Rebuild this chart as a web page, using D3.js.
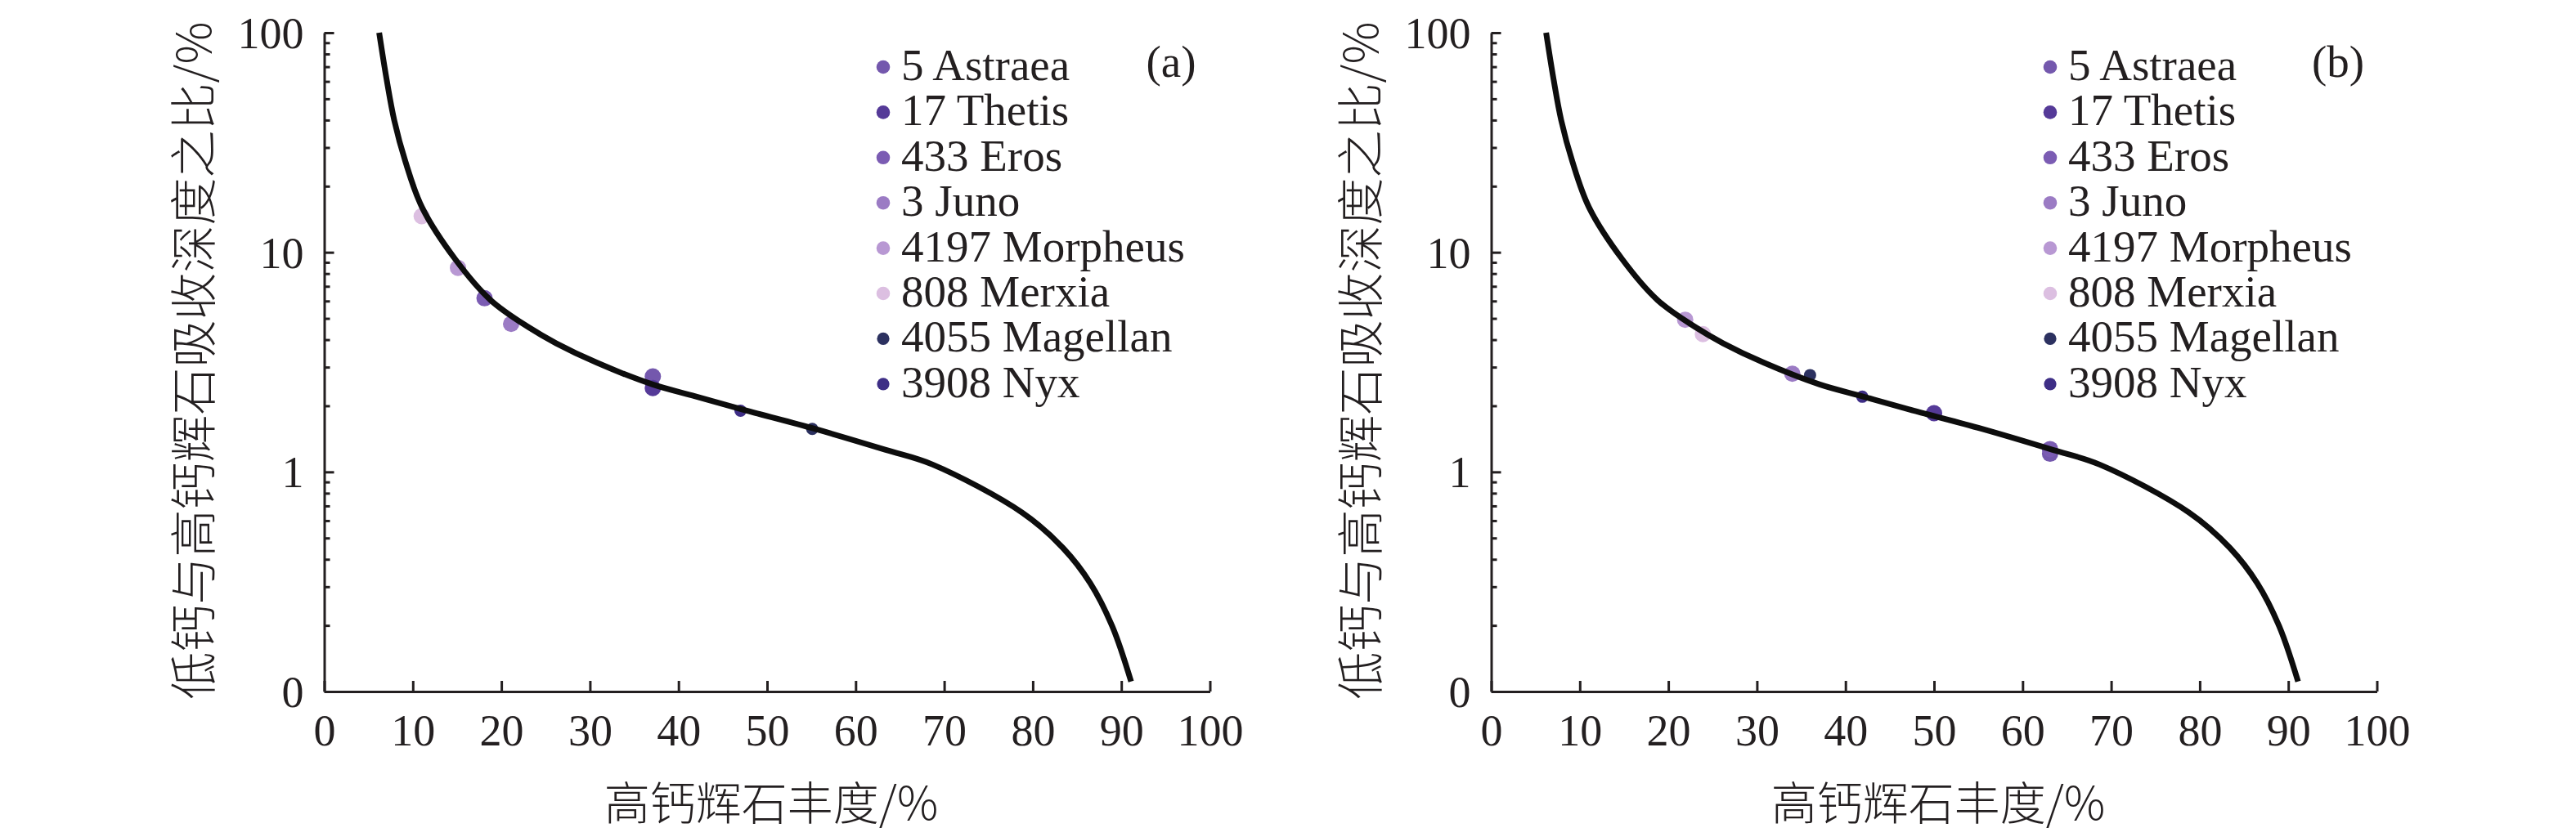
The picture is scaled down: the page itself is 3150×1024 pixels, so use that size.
<!DOCTYPE html>
<html>
<head>
<meta charset="utf-8">
<script src="https://cdn.jsdelivr.net/npm/d3@7"></script>
<style>
  html, body { margin: 0; padding: 0; background: #fff; }
  svg { display: block; }
  .num { font-family: "Liberation Serif", "Times New Roman", serif; fill: #231f20; }
  .cjk { font-family: "Noto Sans CJK SC", sans-serif; font-weight: 300; fill: #231f20; }
</style>
</head>
<body>
<svg id="chart" width="3150" height="1024"></svg>
<script>
/**
 * Ratio of low-Ca to high-Ca pyroxene band depth vs high-Ca pyroxene abundance.
 * Two panels (a) and (b), same model curve, asteroid points per panel.
 */

// model curve (same curve in both panels)
const CURVE_X = [6.2, 7.05, 7.9, 9.15, 11.05, 14.8, 18.8, 23.1, 26.2, 30.8, 37.1, 41.9, 47.1, 55.4, 63.4, 68.7, 78.8, 83.4, 86.5, 89.0, 91.1];
const CURVE_Y = [100, 61, 40, 26, 16.0, 9.29, 6.05, 4.55, 3.85, 3.14, 2.50, 2.21, 1.93, 1.57, 1.26, 1.08, 0.653, 0.451, 0.311, 0.197, 0.111];

const ASTEROIDS = ['5 Astraea', '17 Thetis', '433 Eros', '3 Juno', '4197 Morpheus', '808 Merxia', '4055 Magellan', '3908 Nyx'];
const COLORS    = ['#7458ad', '#553a98', '#7b5cb3', '#9b7bc4', '#b898d3', '#dcbfe1', '#2c3160', '#3e2e86'];

// panel (a) points
const A_X = [37.1, 37.1, 18.1, 21.1, 15.1, 11.0, 55.1, 47.0];
const A_Y = [2.72, 2.41, 6.18, 4.72, 8.5, 14.6, 1.57, 1.90];
// panel (b) points
const B_X = [63.1, 50.0, 63.1, 34.0, 21.9, 23.9, 36.0, 41.9];
const B_Y = [1.21, 1.85, 1.27, 2.80, 4.93, 4.24, 2.76, 2.20];

const X_TICKS = [0, 10, 20, 30, 40, 50, 60, 70, 80, 90, 100];
const Y_MAJOR = [0.1, 1, 10, 100];
const Y_LABELS = ['0', '1', '10', '100'];
const Y_MINOR = [0.2, 0.3, 0.4, 0.5, 0.6, 0.7, 0.8, 0.9, 2, 3, 4, 5, 6, 7, 8, 9, 20, 30, 40, 50, 60, 70, 80, 90];

const X_TITLE = '高钙辉石丰度/%';
const Y_TITLE = '低钙与高钙辉石吸收深度之比/%';

const PANELS = [
  { tag: '(a)', xs: A_X, ys: A_Y, left: 396.5 },
  { tag: '(b)', xs: B_X, ys: B_Y, left: 1823.5 },
];

const svg = d3.select('#chart');
svg.append('rect').attr('width', 3150).attr('height', 1024).attr('fill', '#fff');

const TOP = 40, BOTTOM = 846, PLOT_W = 1083;

for (const p of PANELS) drawPanel(p);

function drawPanel(p) {
  const g = svg.append('g').attr('transform', `translate(${p.left},0)`);
  const x = d3.scaleLinear().domain([0, 100]).range([0, PLOT_W]);
  const y = d3.scaleLog().domain([0.1, 100]).range([BOTTOM, TOP]);

  /* ---- axes ---- */
  const xAxis = g.append('g')
    .attr('transform', `translate(0,${BOTTOM})`)
    .call(d3.axisBottom(x).tickValues(X_TICKS).tickFormat(d3.format('d'))
      .tickSizeInner(-13).tickSizeOuter(0).tickPadding(28));

  const yMinor = g.append('g')
    .call(d3.axisLeft(y).tickValues(Y_MINOR).tickFormat('')
      .tickSizeInner(-7).tickSizeOuter(0));
  yMinor.select('.domain').remove();

  const yAxis = g.append('g')
    .call(d3.axisLeft(y).tickValues(Y_MAJOR).tickFormat((d, i) => Y_LABELS[i])
      .tickSizeInner(-12).tickSizeOuter(0).tickPadding(25));

  for (const ax of [xAxis, yAxis, yMinor]) {
    ax.selectAll('.domain, line').attr('stroke', '#231f20').attr('stroke-width', 3);
    ax.selectAll('text').attr('class', 'num').attr('font-size', 54);
  }
  yAxis.selectAll('text').attr('dy', '0.34em');

  /* ---- points ---- */
  const pts = ASTEROIDS.map((name, i) => ({ name, x: p.xs[i], y: p.ys[i], color: COLORS[i], small: i >= 6 }));
  g.selectAll('circle.pt').data(pts).join('circle')
    .attr('class', 'pt')
    .attr('cx', (d) => x(d.x))
    .attr('cy', (d) => y(d.y))
    .attr('r', (d) => d.small ? 7.5 : 10)
    .attr('fill', (d) => d.color);

  /* ---- model curve ---- */
  const curve = CURVE_X.map((cx, i) => ({ x: cx, y: CURVE_Y[i] }));
  g.append('path').datum(curve)
    .attr('d', d3.line().x((d) => x(d.x)).y((d) => y(d.y)).curve(d3.curveCatmullRom.alpha(0.5)))
    .attr('fill', 'none')
    .attr('stroke', '#0d0d0d')
    .attr('stroke-width', 7)
    .attr('stroke-linecap', 'butt');

  /* ---- legend ---- */
  const leg = g.append('g').attr('transform', `translate(${1080 - 396.5},82)`);
  const rows = leg.selectAll('g').data(pts).join('g')
    .attr('transform', (d, i) => `translate(0,${i * 55.4})`);
  rows.append('circle').attr('r', (d) => d.small ? 7.6 : 8.3).attr('fill', (d) => d.color);
  rows.append('text').attr('class', 'num').attr('font-size', 55)
    .attr('x', 22).attr('y', 16).text((d) => d.name);

  g.append('text').attr('class', 'num').attr('font-size', 55)
    .attr('text-anchor', 'middle')
    .attr('x', 1432 - 396.5).attr('y', 94).text(p.tag);

  /* ---- titles ---- */
  g.append('text').attr('class', 'cjk').attr('font-size', 56)
    .attr('text-anchor', 'middle')
    .attr('x', 943 - 396.5).attr('y', 1003).text(X_TITLE);

  g.append('text').attr('class', 'cjk').attr('font-size', 58)
    .attr('text-anchor', 'middle')
    .attr('transform', `translate(${258 - 396.5},441) rotate(-90)`)
    .text(Y_TITLE);
}
</script>
</body>
</html>
